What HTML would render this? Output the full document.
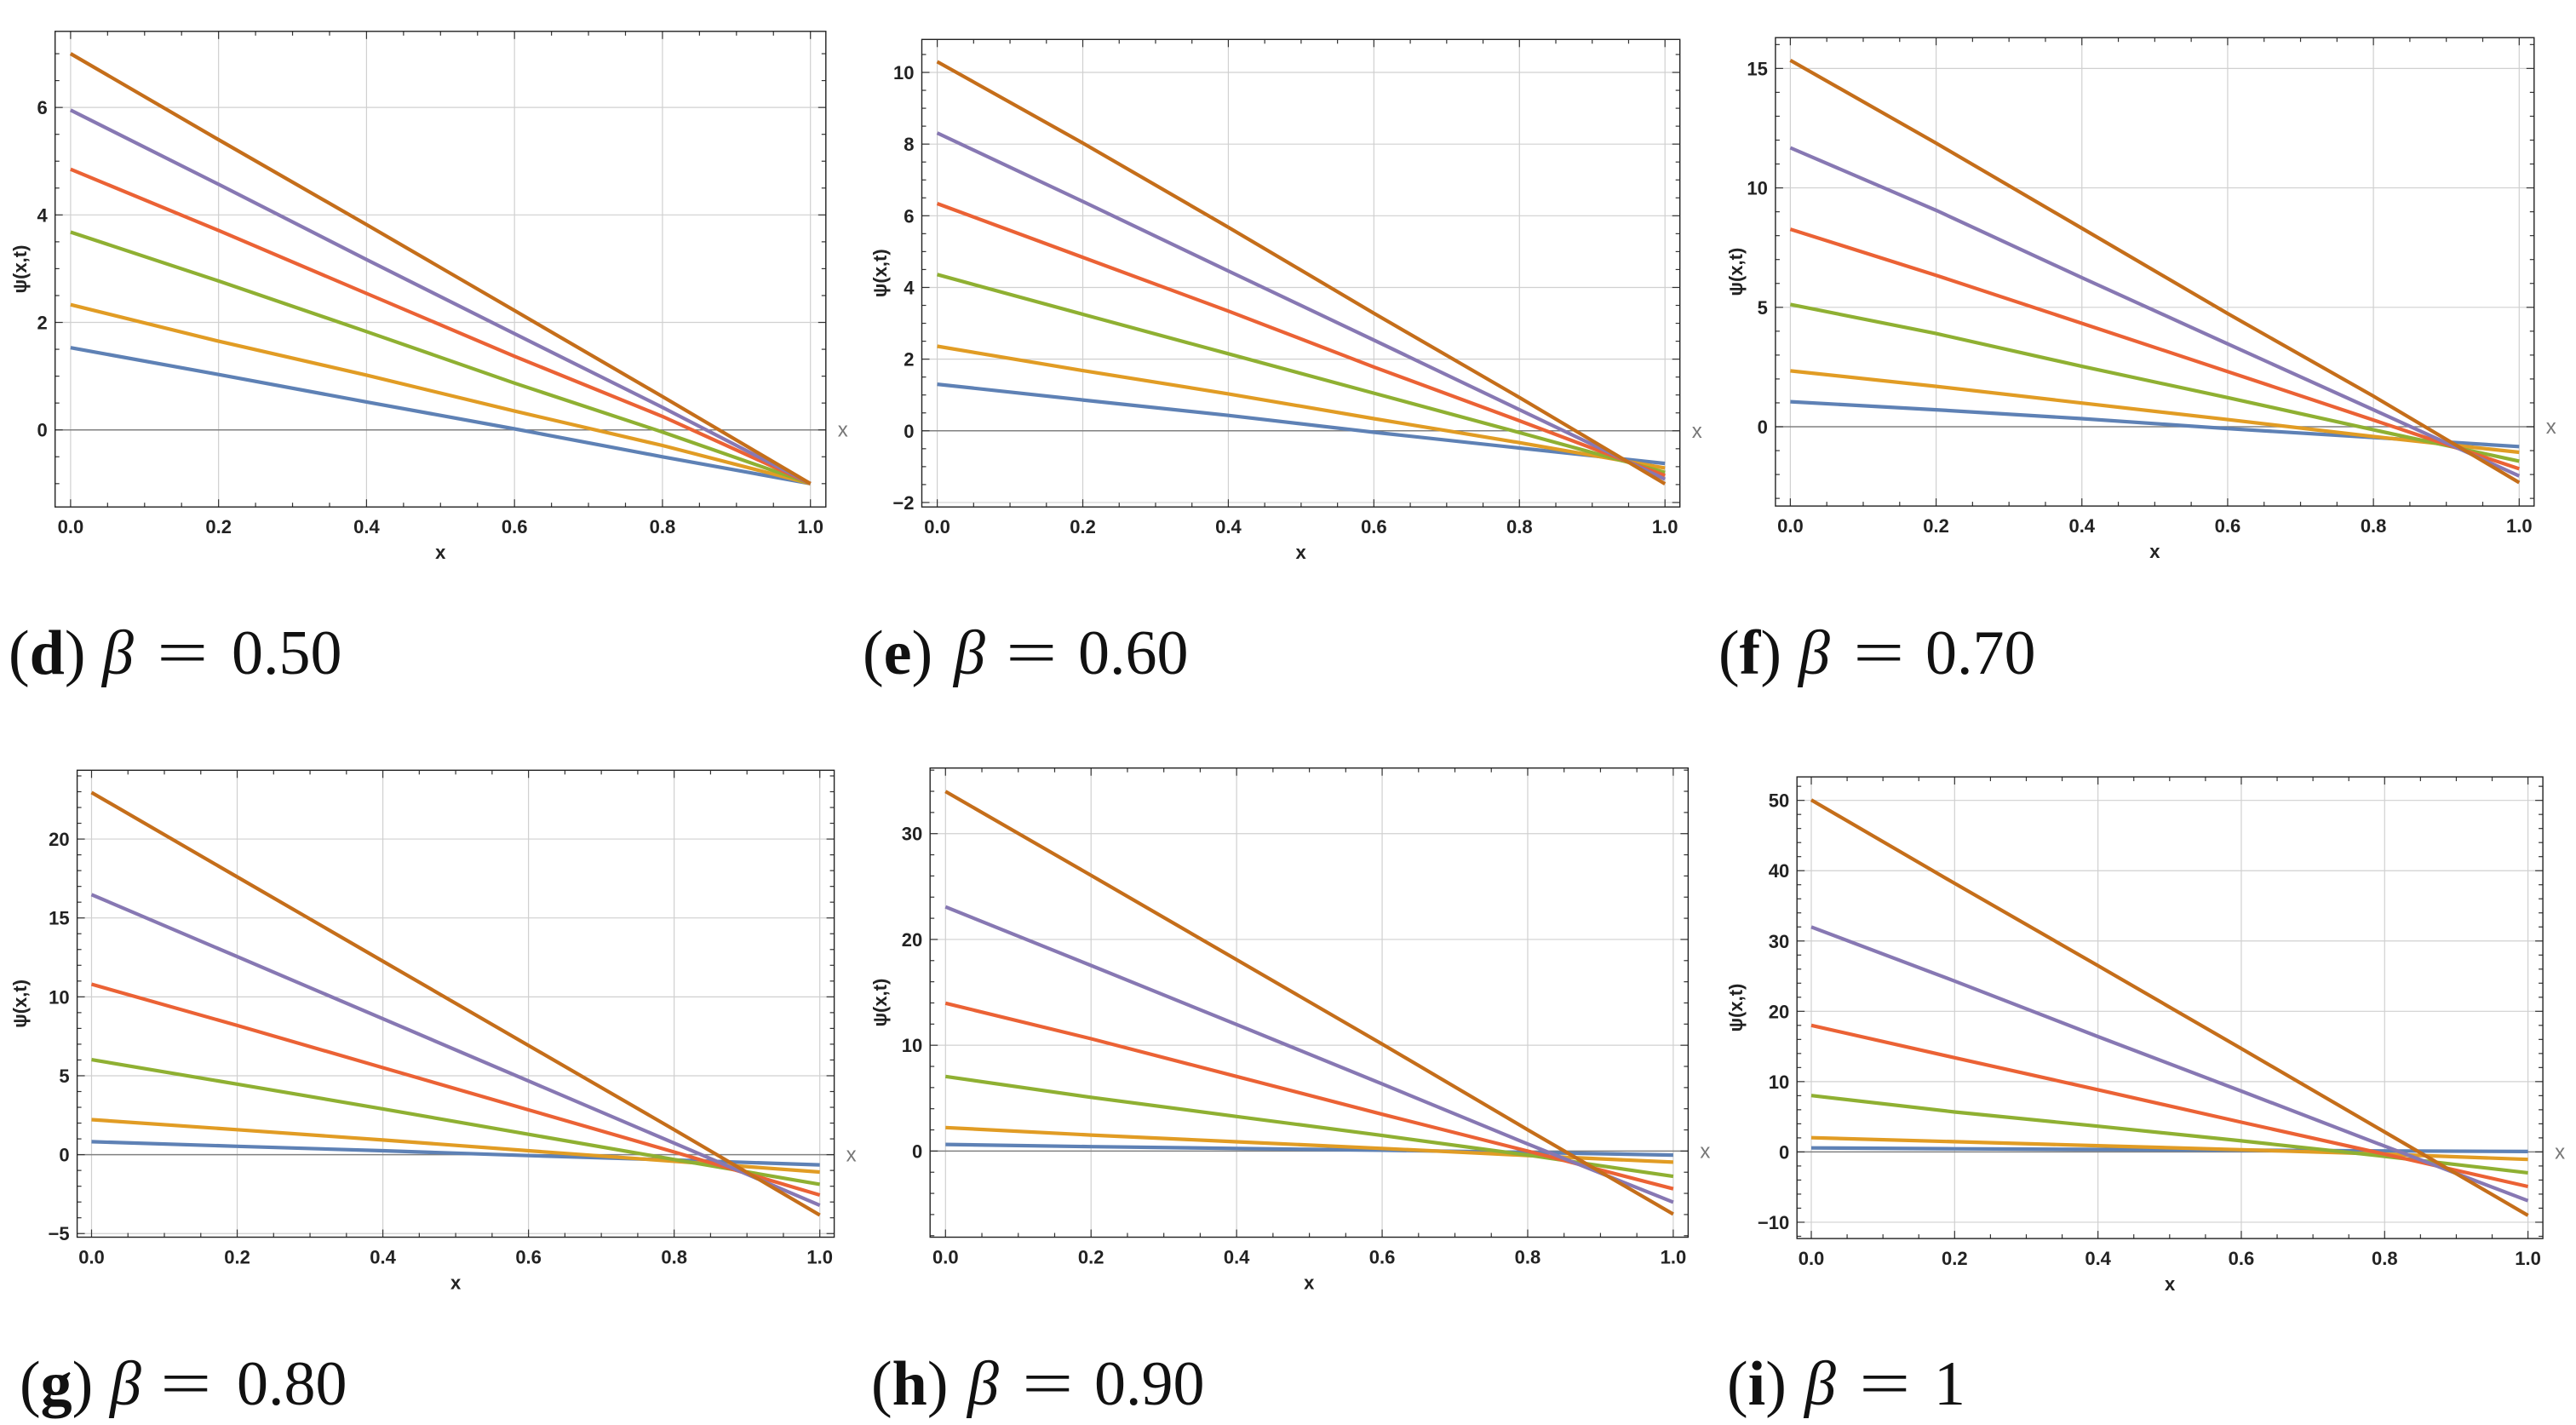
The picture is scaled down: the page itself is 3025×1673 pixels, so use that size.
<!DOCTYPE html>
<html><head><meta charset="utf-8"><style>
html,body{margin:0;padding:0;background:#fff;}
svg{display:block;}
.tk{font-family:"Liberation Sans",sans-serif;font-size:22px;font-weight:bold;fill:#222;}
.cap{font-family:"Liberation Serif",serif;font-size:74px;fill:#111;}
</style></head><body>
<svg id="fig" width="3025" height="1673" viewBox="0 0 3025 1673" xmlns="http://www.w3.org/2000/svg"></svg>
<script>
const xValues=[0,0.2,0.4,0.6,0.8,1.0];
const seriesNames=['blue','orange','green','red','purple','brown'];
const seriesColors=['#5E81B5','#E19C24','#8FB032','#EB6235','#8778B3','#C56E1A'];
const xTickLabels=['0.0','0.2','0.4','0.6','0.8','1.0'];
const xTickValues=[0,0.2,0.4,0.6,0.8,1.0];

const dBlue=[1.53,1.03,0.52,0.02,-0.5,-1];
const dOrange=[2.33,1.65,1.02,0.35,-0.29,-1];
const dGreen=[3.68,2.77,1.83,0.87,-0.04,-1];
const dRed=[4.85,3.71,2.54,1.37,0.25,-1];
const dPurple=[5.95,4.57,3.17,1.79,0.42,-1];
const dBrown=[7.0,5.4,3.82,2.22,0.62,-1];

const eBlue=[1.3,0.86,0.43,-0.04,-0.48,-0.91];
const eOrange=[2.36,1.68,1.03,0.34,-0.33,-1.04];
const eGreen=[4.36,3.25,2.15,1.05,-0.05,-1.16];
const eRed=[6.34,4.84,3.34,1.78,0.28,-1.25];
const ePurple=[8.31,6.4,4.46,2.53,0.59,-1.35];
const eBrown=[10.3,8.03,5.68,3.28,0.93,-1.48];

const fBlue=[1.05,0.71,0.34,-0.08,-0.45,-0.83];
const fOrange=[2.34,1.69,0.99,0.3,-0.41,-1.07];
const fGreen=[5.12,3.9,2.53,1.22,-0.13,-1.44];
const fRed=[8.27,6.34,4.33,2.31,0.28,-1.76];
const fPurple=[11.68,9.06,6.24,3.47,0.71,-2.06];
const fBrown=[15.34,11.87,8.31,4.74,1.28,-2.34];

const gBlue=[0.82,0.53,0.25,-0.06,-0.34,-0.65];
const gOrange=[2.22,1.58,0.93,0.25,-0.42,-1.1];
const gGreen=[6.02,4.47,2.9,1.29,-0.31,-1.88];
const gRed=[10.8,8.19,5.51,2.84,0.17,-2.56];
const gPurple=[16.48,12.55,8.61,4.67,0.73,-3.21];
const gBrown=[22.95,17.6,12.26,6.92,1.58,-3.83];

const hBlue=[0.63,0.42,0.25,0.08,-0.13,-0.38];
const hOrange=[2.22,1.51,0.88,0.25,-0.42,-1.05];
const hGreen=[7.05,5.08,3.27,1.47,-0.38,-2.39];
const hRed=[13.97,10.62,7.05,3.48,0,-3.57];
const hPurple=[23.08,17.54,11.96,6.34,0.67,-4.83];
const hBrown=[33.99,26.06,18.09,10.11,2.01,-5.96];

const iBlue=[0.57,0.45,0.35,0.25,0.15,0.06];
const iOrange=[2.02,1.45,0.88,0.32,-0.32,-1.07];
const iGreen=[8.02,5.68,3.66,1.58,-0.63,-2.97];
const iRed=[18,13.4,8.84,4.23,-0.32,-4.92];
const iPurple=[32,24.3,16.4,8.65,0.82,-6.94];
const iBrown=[50.06,38.2,26.5,14.7,2.84,-9.03];

const dYTicks=[0,2,4,6];
const eYTicks=[-2,0,2,4,6,8,10];
const fYTicks=[0,5,10,15];
const gYTicks=[-5,0,5,10,15,20];
const hYTicks=[0,10,20,30];
const iYTicks=[-10,0,10,20,30,40,50];

const captionLetters=['d','e','f','g','h','i'];
const captionValues=['0.50','0.60','0.70','0.80','0.90','1'];

const NS='http://www.w3.org/2000/svg';
const svg=document.getElementById('fig');
function mk(tag,attrs,parent){const e=document.createElementNS(NS,tag);for(const k in attrs)e.setAttribute(k,attrs[k]);(parent||svg).appendChild(e);return e;}

const panels=[
 {id:'d',ox:0,oy:0,L:64.7,R:969.8,T:36.8,B:595.2,x0:82.9,x1:951.7,ymin:-1.434,ymax:7.416,yt:dYTicks,minor:0.5,s:[dBlue,dOrange,dGreen,dRed,dPurple,dBrown],cap:[10,120,188,272],base:791},
 {id:'e',ox:1010,oy:0,L:1082.5,R:1972.7,T:46.3,B:595.2,x0:1100.6,x1:1955.2,ymin:-2.125,ymax:10.92,yt:eYTicks,minor:0.5,s:[eBlue,eOrange,eGreen,eRed,ePurple,eBrown],cap:[1013,1120,1185,1266],base:791},
 {id:'f',ox:2015,oy:0,L:2084.9,R:2975.8,T:44.2,B:594.1,x0:2102.4,x1:2958.3,ymin:-3.32,ymax:16.29,yt:fYTicks,minor:1,s:[fBlue,fOrange,fGreen,fRed,fPurple,fBrown],cap:[2018,2112,2180,2261],base:791},
 {id:'g',ox:0,oy:860,L:90.6,R:979.6,T:904.3,B:1452.5,x0:107.5,x1:962.7,ymin:-5.23,ymax:24.36,yt:gYTicks,minor:1,s:[gBlue,gOrange,gGreen,gRed,gPurple,gBrown],cap:[23,129,192,278],base:1649},
 {id:'h',ox:1010,oy:860,L:1092.2,R:1982.4,T:901.7,B:1452.5,x0:1110.3,x1:1964.9,ymin:-8.14,ymax:36.2,yt:hYTicks,minor:2,s:[hBlue,hOrange,hGreen,hRed,hPurple,hBrown],cap:[1023,1136,1204,1285],base:1649},
 {id:'i',ox:2015,oy:860,L:2110.2,R:2986.1,T:912.1,B:1454.1,x0:2127,x1:2968.6,ymin:-12.32,ymax:53.34,yt:iYTicks,minor:2,s:[iBlue,iOrange,iGreen,iRed,iPurple,iBrown],cap:[2028,2119,2187,2271],base:1649}
];

panels.forEach((p,pi)=>{
  const g=mk('g',{});
  
  
  const X=v=>p.x0+(p.x1-p.x0)*v;
  const Y=v=>p.B-(v-p.ymin)/(p.ymax-p.ymin)*(p.B-p.T);
  xTickValues.forEach(v=>{const l=mk('line',{x1:X(v),x2:X(v),y1:p.T,y2:p.B,stroke:'#d0d0d0','stroke-width':1.2},g);
    
    });
  p.yt.forEach(v=>{if(v===0)return;const l=mk('line',{x1:p.L,x2:p.R,y1:Y(v),y2:Y(v),stroke:'#d0d0d0','stroke-width':1.2},g);
    
    });
  const z=mk('line',{x1:p.L,x2:p.R,y1:Y(0),y2:Y(0),stroke:'#808080','stroke-width':1.5},g);
  
  
  for(let k=0;k<=20;k++){const v=k*0.05;const maj=k%4===0;const len=maj?9:5;
    mk('line',{x1:X(v),x2:X(v),y1:p.B,y2:p.B-len,stroke:'#333','stroke-width':1.2},g);
    mk('line',{x1:X(v),x2:X(v),y1:p.T,y2:p.T+len,stroke:'#333','stroke-width':1.2},g);}
  const m0=Math.ceil(p.ymin/p.minor),m1=Math.floor(p.ymax/p.minor);
  for(let k=m0;k<=m1;k++){const v=k*p.minor;const maj=p.yt.some(t=>Math.abs(t-v)<1e-9);const len=maj?9:5;
    mk('line',{x1:p.L,x2:p.L+len,y1:Y(v),y2:Y(v),stroke:'#333','stroke-width':1.2},g);
    mk('line',{x1:p.R,x2:p.R-len,y1:Y(v),y2:Y(v),stroke:'#333','stroke-width':1.2},g);}
  p.s.forEach((arr,si)=>{
    const pts=arr.map((v,j)=>X(xValues[j]).toFixed(1)+','+Y(v).toFixed(1)).join(' ');
    const pl=mk('polyline',{points:pts,fill:'none',stroke:seriesColors[si],'stroke-width':4.2,'stroke-linejoin':'round'},g);
    
    
  });
  const fr=mk('rect',{x:p.L,y:p.T,width:p.R-p.L,height:p.B-p.T,fill:'none',stroke:'#222','stroke-width':1.4},g);
  
  
  xTickValues.forEach((v,j)=>{const t=mk('text',{x:X(v),y:p.B+31,'text-anchor':'middle',class:'tk'},g);t.textContent=xTickLabels[j];
    
    });
  p.yt.forEach(v=>{const t=mk('text',{x:p.L-9,y:Y(v)+8,'text-anchor':'end',class:'tk'},g);t.textContent=(v<0?'\u2212':'')+Math.abs(v);
    
    });
  const xt=mk('text',{x:(p.L+p.R)/2,y:p.B+61,'text-anchor':'middle',class:'tk'},g);xt.textContent='x';
  
  
  const xr=mk('text',{x:p.R+14,y:Y(0)+8,class:'tk',style:'fill:#777;font-weight:normal;font-size:24px'},g);xr.textContent='x';
  
  
  const yl=mk('text',{x:0,y:0,'text-anchor':'middle',class:'tk',transform:`translate(${p.ox+31},${(p.T+p.B)/2}) rotate(-90)`},g);yl.textContent='\u03c8(x,t)';
  
  
  const cg=mk('g',{},g);
  
  
  const c1=mk('text',{x:p.cap[0],y:p.base,class:'cap'},cg);
  c1.innerHTML='(<tspan font-weight="bold">'+captionLetters[pi]+'</tspan>)';
  const c2=mk('text',{x:p.cap[1],y:p.base,class:'cap','font-style':'italic'},cg);c2.textContent='\u03b2';
  const c3=mk('text',{x:0,y:0,class:'cap',transform:`translate(${p.cap[2]-4},${p.base}) scale(1.45,1)`},cg);c3.textContent='=';
  const c4=mk('text',{x:p.cap[3],y:p.base,class:'cap'},cg);c4.textContent=captionValues[pi];
});
</script>
</body></html>
